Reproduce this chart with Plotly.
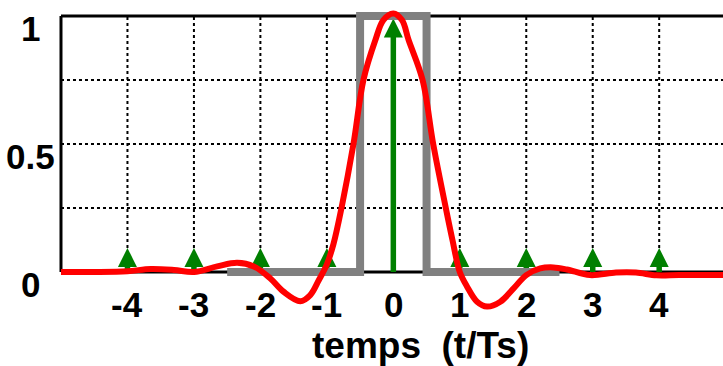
import plotly.graph_objects as go

# ---- data ----
t_red = [-5.0, -4.5, -4.0, -3.65, -3.3, -3.0, -2.65, -2.35, -2.1, -1.85, -1.65, -1.4,
         -1.25, -1.12, -1.0, -0.9, -0.78, -0.6, -0.45, -0.27, -0.15, 0.0, 0.13, 0.23,
         0.44, 0.6, 0.79, 0.89, 1.0, 1.11, 1.26, 1.41, 1.61, 1.81, 2.0, 2.21, 2.41,
         2.61, 2.96, 3.35, 3.65, 3.96, 4.3, 4.96]
y_red = [0.0, 0.0, 0.003, 0.012, 0.008, 0.0, 0.022, 0.036, 0.022, -0.025, -0.077, -0.114,
         -0.09, -0.031, 0.03, 0.11, 0.25, 0.5, 0.75, 0.906, 0.984, 1.01, 0.984, 0.906,
         0.75, 0.5, 0.25, 0.125, 0.0, -0.057, -0.116, -0.135, -0.116, -0.064, -0.012, 0.014, 0.018,
         0.01, -0.012, -0.002, -0.002, -0.013, -0.012, -0.012]

t_rect = [-2.5, -0.5, -0.5, 0.5, 0.5, 2.5]
y_rect = [0, 0, 1, 1, 0, 0]

t_imp = [-4, -3, -2, -1, 0, 1, 2, 3, 4]
y_imp = [0.094, 0.094, 0.094, 0.094, 0.99, 0.094, 0.094, 0.094, 0.094]

x_ticks = [-4, -3, -2, -1, 0, 1, 2, 3, 4]
x_ticklabels = ["-4", "-3", "-2", "-1", "0", "1", "2", "3", "4"]
y_ticks = [0, 0.5, 1]
y_ticklabels = ["0", "0.5", "1"]
grid_y = [0.25, 0.5, 0.75]

x_range = [-5.03, 4.96]
y_range = [-0.16, 1.03125]
x_frame = -5.0
xlabel = "temps \u00a0(t/Ts)"

# ---- figure ----
FONT = "Liberation Sans, Arial, sans-serif"
fig = go.Figure()

# stems (end inside the arrow head)
head = 0.05
sx, sy = [], []
for t, v in zip(t_imp, y_imp):
    sx += [t, t, None]
    sy += [0, v - head, None]
fig.add_trace(go.Scatter(x=sx, y=sy, mode="lines",
                         line=dict(color="#008000", width=5.5), hoverinfo="skip"))
fig.add_trace(go.Scatter(x=t_imp, y=y_imp, mode="markers",
                         marker=dict(symbol="arrow-up", size=19, color="#008000",
                                     line=dict(width=0)), hoverinfo="skip"))
fig.add_trace(go.Scatter(x=t_rect, y=y_rect, mode="lines",
                         line=dict(color="#808080", width=8)))
fig.add_trace(go.Scatter(x=t_red, y=y_red, mode="lines",
                         line=dict(color="#ff0000", width=6, shape="spline", smoothing=1.0)))

shapes = []
# dotted grid
for gx in x_ticks:
    shapes.append(dict(type="line", xref="x", yref="y", x0=gx, x1=gx, y0=y_ticks[0], y1=y_ticks[-1],
                       line=dict(color="black", width=2, dash="dot"), layer="below"))
for gy in grid_y:
    shapes.append(dict(type="line", xref="x", yref="y", x0=x_frame, x1=x_range[1], y0=gy, y1=gy,
                       line=dict(color="black", width=2, dash="dot"), layer="below"))
# frame lines
shapes.append(dict(type="line", xref="x", yref="y", x0=x_frame, x1=x_frame, y0=y_ticks[0], y1=y_ticks[-1],
                   line=dict(color="black", width=3), layer="below"))
for fy in (y_ticks[0], y_ticks[-1]):
    shapes.append(dict(type="line", xref="x", yref="y", x0=x_frame, x1=x_range[1], y0=fy, y1=fy,
                       line=dict(color="black", width=3), layer="below"))

annotations = []
for t, lab in zip(x_ticks, x_ticklabels):
    annotations.append(dict(x=t, y=0, xref="x", yref="y", text=lab, showarrow=False,
                            xanchor="center", yanchor="middle", yshift=-32,
                            font=dict(family=FONT, size=35, color="black", weight="bold")))
for v, lab in zip(y_ticks, y_ticklabels):
    annotations.append(dict(x=-0.0423, y=v, xref="paper", yref="y", text=lab, showarrow=False,
                            xanchor="center", yanchor="middle", yshift=-12,
                            font=dict(family=FONT, size=35, color="black", weight="bold")))
annotations.append(dict(x=0.41, y=0, xref="x", yref="y", text=xlabel, showarrow=False,
                        xanchor="center", yanchor="middle", yshift=-73,
                        font=dict(family=FONT, size=37, color="black", weight="bold")))

fig.update_layout(
    width=723, height=366, autosize=False,
    margin=dict(l=59, r=0, t=8, b=53),
    paper_bgcolor="white", plot_bgcolor="white",
    showlegend=False,
    xaxis=dict(range=x_range, visible=False, fixedrange=True),
    yaxis=dict(range=y_range, visible=False, fixedrange=True),
    shapes=shapes, annotations=annotations,
)

fig.write_html("out.html")
